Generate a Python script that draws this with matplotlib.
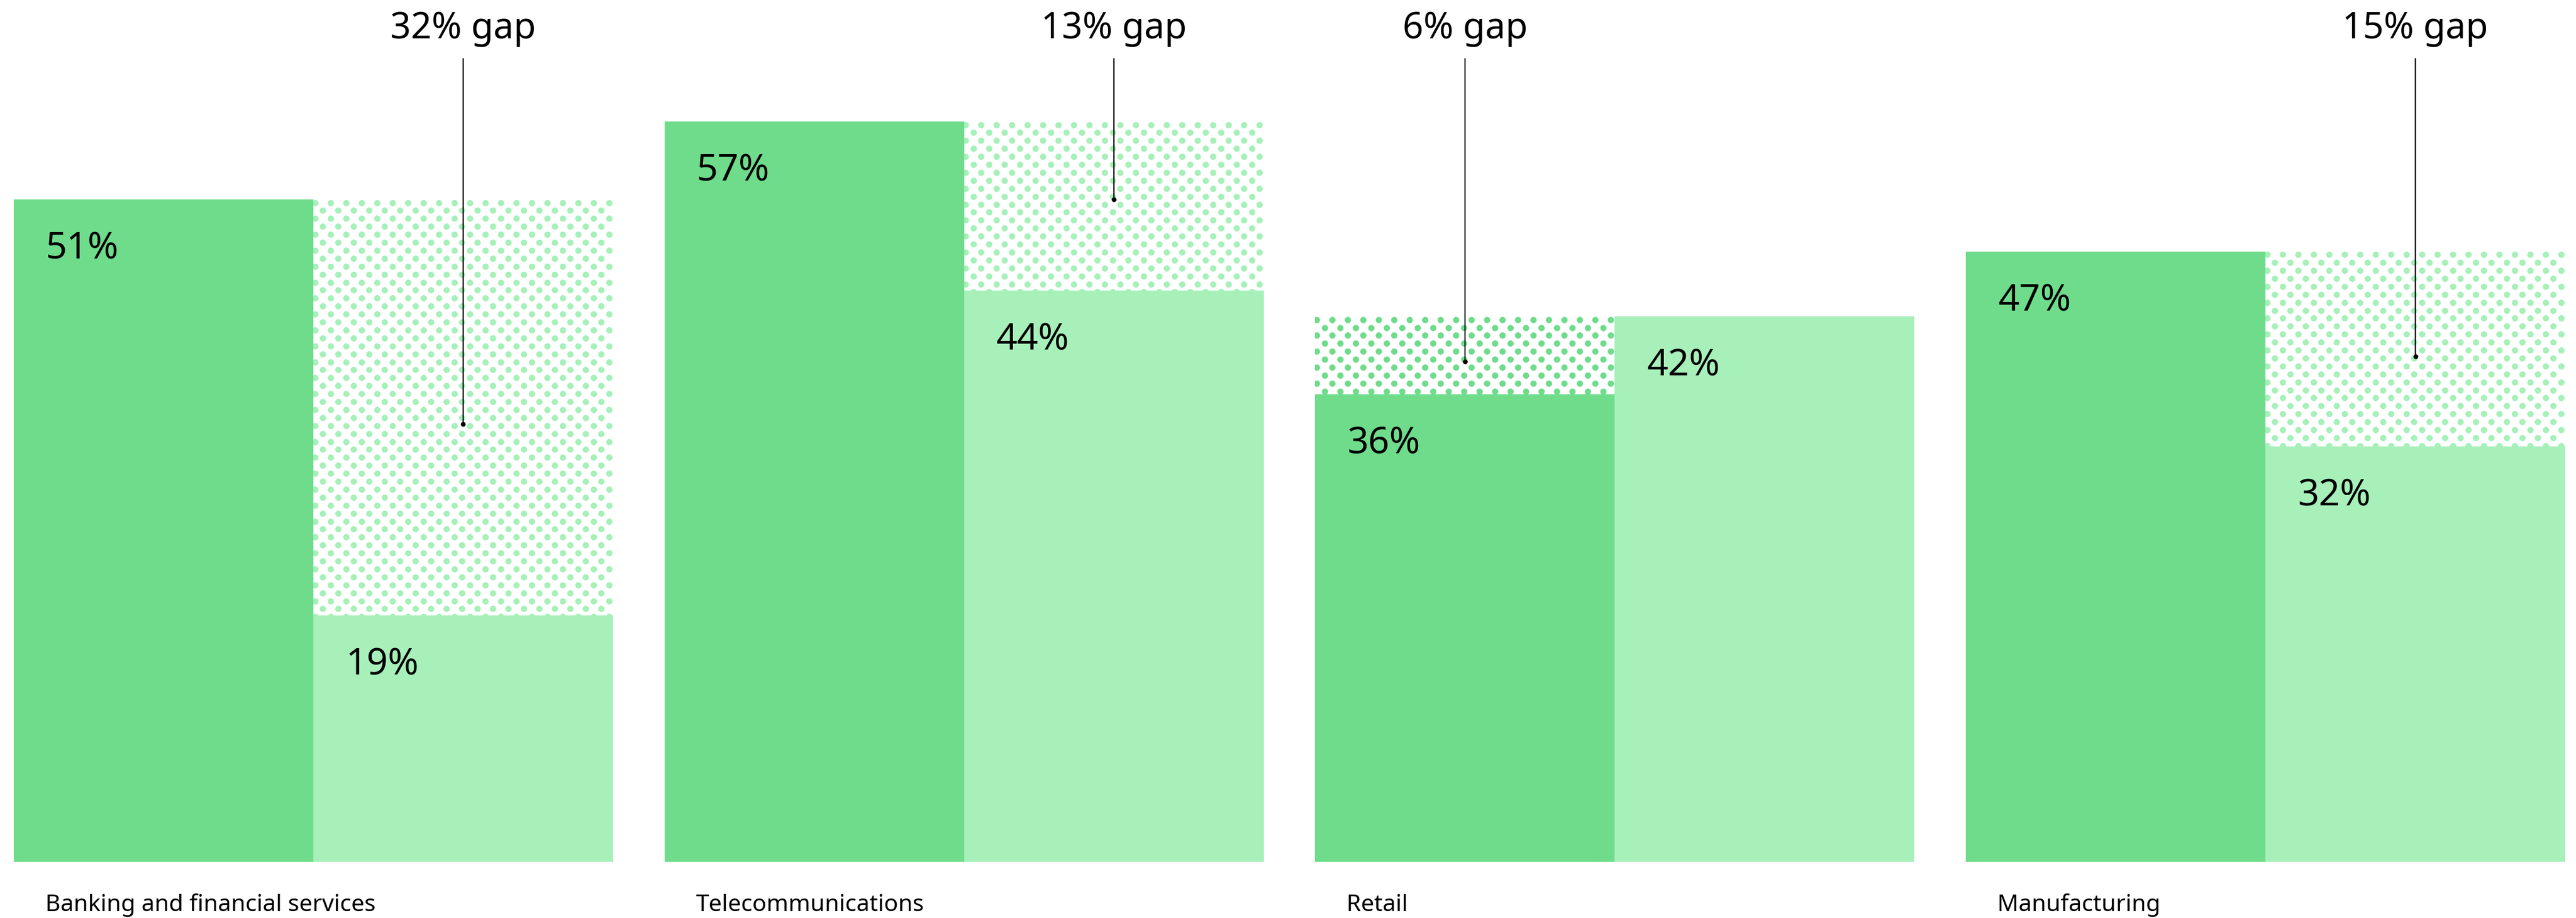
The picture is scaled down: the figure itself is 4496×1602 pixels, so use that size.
import matplotlib
matplotlib.use("Agg")
import matplotlib.pyplot as plt
import matplotlib.transforms as mtransforms
import numpy as np

# data
categories = ["Banking and financial services", "Telecommunications", "Retail", "Manufacturing"]
first_vals = [51, 57, 36, 47]     # dark bars
second_vals = [19, 44, 42, 32]    # light bars
anchor_vals = [33.7, 51.0, 38.5, 38.9]   # where the gap pointer ends

dark = "#6fdc8c"
light = "#a7f0ba"
plt.rcParams["font.family"] = ["Noto Sans", "DejaVu Sans"]

W, H, DPI = 4496, 1602, 100
fig = plt.figure(figsize=(W / DPI, H / DPI), dpi=DPI)
ax = fig.add_axes([0, 0, 1, 1])
ax.set_xlim(-0.4816, 3.4771)
ax.set_ylim(-4.30, 66.34)
ax.axis("off")

bw = 0.4605
x = np.arange(len(categories))
ax.bar(x - bw / 2, first_vals, width=bw, color=dark, linewidth=0)
ax.bar(x + bw / 2, second_vals, width=bw, color=light, linewidth=0)

# pixel -> data scale
p0 = ax.transData.transform((0, 0))
p1 = ax.transData.transform((1, 1))
px_x = p1[0] - p0[0]
px_y = p1[1] - p0[1]

dot_dx, dot_dy, dot_d = 27.0, 13.9, 11.0
blend = mtransforms.blended_transform_factory(ax.transData, ax.transAxes)

for i in range(len(categories)):
    a, b = first_vals[i], second_vals[i]
    lo, hi = min(a, b), max(a, b)
    if b < a:
        cx, col = x[i] + bw / 2, light
    else:
        cx, col = x[i] - bw / 2, dark
    gap_bar = ax.bar(cx, hi - lo, bottom=lo, width=bw, color="none", linewidth=0)[0]

    # dotted fill of the gap
    left = cx - bw / 2
    xs, ys = [], []
    nrows = int((hi - lo) * px_y / dot_dy) + 2
    ncols = int(bw * px_x / dot_dx) + 2
    for r in range(nrows):
        yy = hi - (5.7 + r * dot_dy) / px_y
        off = 2.8 + (dot_dx / 2 if r % 2 else 0)
        for c in range(ncols):
            xs.append(left + (off + c * dot_dx) / px_x)
            ys.append(yy)
    sc = ax.scatter(xs, ys, s=(dot_d * 0.72) ** 2, color=col, linewidths=0, zorder=1)
    sc.set_clip_path(gap_bar)

    # pointer and label
    ax.annotate("", xy=(cx, anchor_vals[i]), xycoords="data",
                xytext=(cx, 1 - 102.3 / H), textcoords=blend,
                arrowprops=dict(arrowstyle="-", color="black", lw=1.5,
                                shrinkA=0, shrinkB=0), zorder=3)
    ax.plot(cx, anchor_vals[i], "o", color="black", ms=5, zorder=4)
    ax.text(cx, 1 - 66.7 / H, f"{hi - lo}% gap", transform=blend,
            ha="center", va="baseline", fontsize=45.5, color="black")

    # value labels
    ax.annotate(f"{a}%", xy=(x[i] - bw, a), xytext=(56, -103.5),
                textcoords="offset pixels", ha="left", va="baseline",
                fontsize=46.5, color="black", zorder=5)
    ax.annotate(f"{b}%", xy=(x[i], b), xytext=(56, -103.5),
                textcoords="offset pixels", ha="left", va="baseline",
                fontsize=46.5, color="black", zorder=5)

    # category label
    ax.text(x[i] - bw + 55 / px_x, 1 - 1590 / H, categories[i], transform=blend,
            ha="left", va="baseline", fontsize=29.4, color="black")

fig.savefig("out.png", dpi=DPI, facecolor="white")
